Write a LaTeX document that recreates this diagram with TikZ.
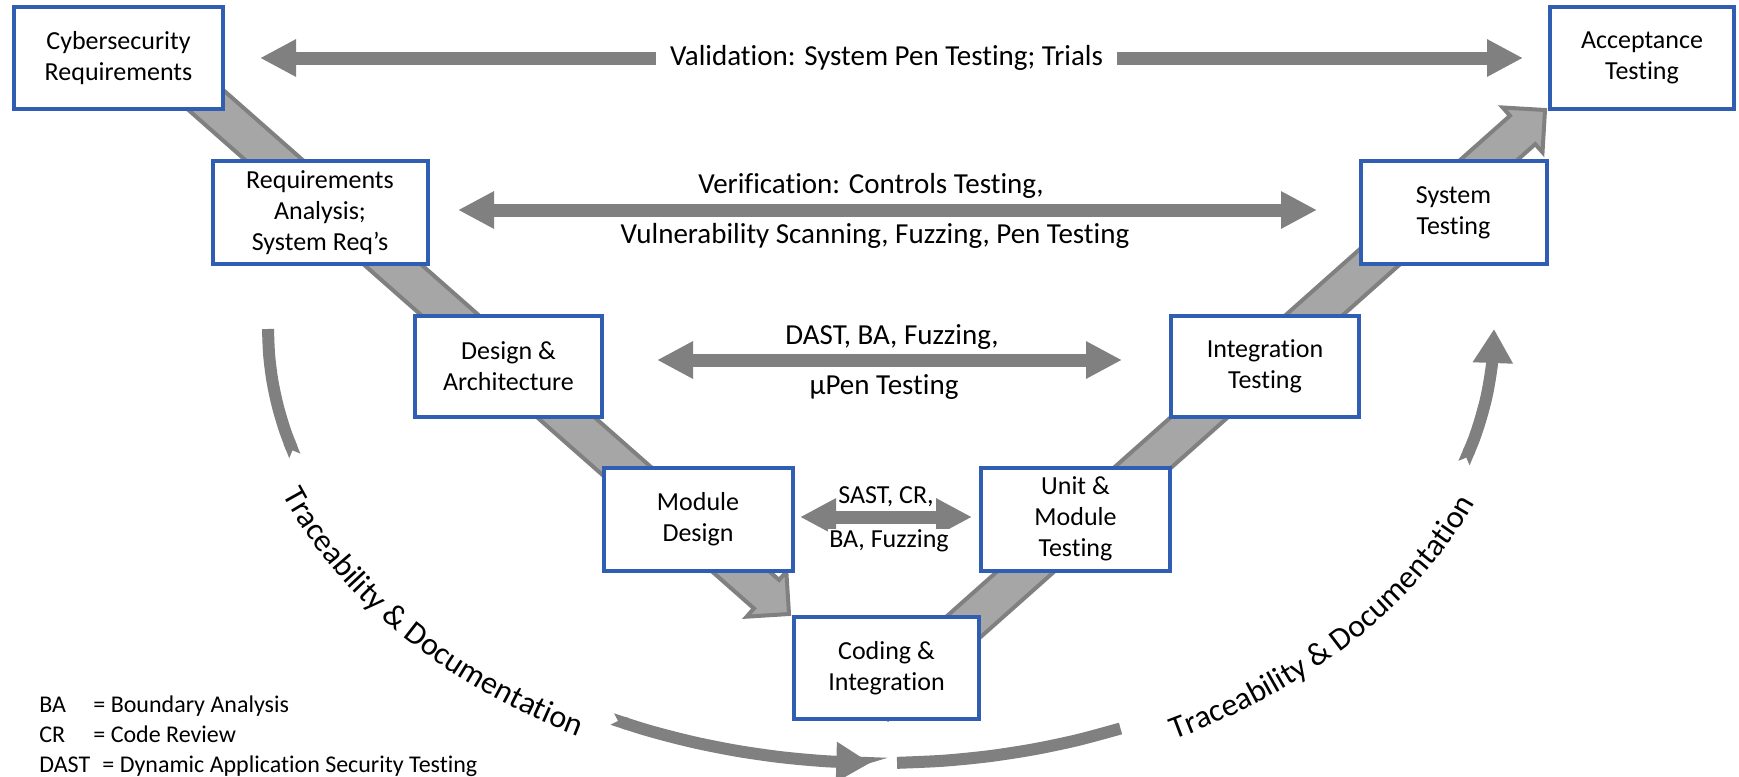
\documentclass[tikz,border=0pt]{standalone}
\usepackage{fontspec}
\setmainfont{Carlito}[Ligatures={NoCommon,NoRare,NoContextual}]
\usetikzlibrary{arrows.meta,calc,decorations.text,backgrounds}
\definecolor{boxblue}{RGB}{47,94,178}
\definecolor{agray}{RGB}{128,128,128}
\definecolor{bandgray}{RGB}{166,166,166}
\newcommand{\boxfont}{\fontsize{13pt}{15.5pt}\selectfont}
\newcommand{\labfont}{\fontsize{14.5pt}{17pt}\selectfont}
\newcommand{\smlabfont}{\fontsize{13pt}{15pt}\selectfont}
\newcommand{\legfont}{\fontsize{12pt}{14pt}\selectfont}
\newcommand{\tracefont}{\fontsize{16pt}{19pt}\selectfont}
\begin{document}
\begin{tikzpicture}[x=0.5pt,y=-0.5pt,
  stage/.style={draw=boxblue, line width=2pt, fill=white, align=center, inner sep=0pt, font=\boxfont},
  harrow/.style={draw=agray, line width=6.5pt, {Triangle[length=18pt,width=17.5pt]}-{Triangle[length=18pt,width=17.5pt]}},
  lab/.style={font=\labfont, inner sep=1pt},
  smlab/.style={font=\smlabfont, fill=white, inner sep=0.5pt},
  vband/.style={fill=bandgray, draw=agray, line width=2pt, line join=miter},
  carc/.style={draw=agray, line width=6pt},
  leg/.style={font=\legfont, anchor=base west, inner sep=0pt},
  trace/.style={decorate, decoration={text along path, text align=center, text={|\tracefont|Traceability {\&} Documentation}}}
]
\useasboundingbox (0,0) rectangle (1739,776);

% stages
\node[stage, minimum width=104.5pt, minimum height=51pt] (cyber) at (118.5,58) {Cybersecurity\\Requirements};
\node[stage, minimum width=107.5pt, minimum height=51.5pt] (reqan) at (320,212.5) {Requirements\\Analysis;\\System Req’s};
\node[stage, minimum width=93.5pt, minimum height=50.5pt] (design) at (508.5,366.5) {Design \&\\Architecture};
\node[stage, minimum width=94.5pt, minimum height=51.5pt] (module) at (698,519) {Module\\Design};
\node[stage, minimum width=92.5pt, minimum height=51pt] (coding) at (886.5,668) {Coding \&\\Integration};
\node[stage, minimum width=94.5pt, minimum height=51.5pt] (unit) at (1075.5,519) {Unit \&\\Module\\Testing};
\node[stage, minimum width=94pt, minimum height=50.5pt] (integ) at (1265,366.5) {Integration\\Testing};
\node[stage, minimum width=93pt, minimum height=51.5pt] (system) at (1453.5,212.5) {System\\Testing};
\node[stage, minimum width=92pt, minimum height=51pt] (accept) at (1642,58) {Acceptance\\Testing};

% V bands
\begin{scope}[on background layer]
\coordinate (LS) at ($(cyber.center)+(42,2)$);
\coordinate (LT) at ($(coding.north west)+(-3,-1)$);
\coordinate (LB) at ($(LT)!15pt!(LS)$);
\filldraw[vband] ($(LS)!9.5pt!90:(LT)$) -- ($(LB)!9.5pt!90:(LT)$) -- ($(LB)!15pt!90:(LT)$) -- (LT)
  -- ($(LB)!15pt!-90:(LT)$) -- ($(LB)!9.5pt!-90:(LT)$) -- ($(LS)!9.5pt!-90:(LT)$) -- cycle;
\coordinate (RS) at ($(coding.center)+(-11,37)$);
\coordinate (RT) at ($(accept.south west)+(-3,-1)$);
\coordinate (RB) at ($(RT)!15pt!(RS)$);
\filldraw[vband] ($(RS)!9.5pt!90:(RT)$) -- ($(RB)!9.5pt!90:(RT)$) -- ($(RB)!15pt!90:(RT)$) -- (RT)
  -- ($(RB)!15pt!-90:(RT)$) -- ($(RB)!9.5pt!-90:(RT)$) -- ($(RS)!9.5pt!-90:(RT)$) -- cycle;
\end{scope}

% horizontal arrows
\draw[harrow] ($(cyber.east)+(35,0)$) -- ($(accept.west)+(-25,0)$);
\draw[harrow] ($(reqan.east)+(28.5,-2.5)$) -- ($(system.west)+(-41.5,-2.5)$);
\draw[harrow] ($(design.east)+(53,-6.5)$) -- ($(integ.west)+(-47,-6.5)$);
\draw[harrow] ($(module.east)+(5.5,-2)$) -- ($(unit.west)+(-7,-2)$);

% labels
\node[lab, fill=white, inner xsep=7pt] (vallab) at ($(cyber.east)!0.5!(accept.west)$) {Validation: System Pen Testing; Trials};
\node[lab] (verlab1) at (871,186) {Verification: Controls Testing,};
\node[lab] (verlab2) at (875,236) {Vulnerability Scanning, Fuzzing, Pen Testing};
\node[lab] (dastlab1) at (892,337) {DAST, BA, Fuzzing,};
\node[lab] (dastlab2) at (884,387) {µPen Testing};
\node[smlab] (sastlab1) at (886,497) {SAST, CR,};
\node[smlab] (sastlab2) at (889,541) {BA, Fuzzing};

% traceability arcs
\draw[carc, -{Triangle Cap[reversed]}] plot[smooth, domain=180:163, samples=6, variable=\t] ({881+613*cos(\t)},{329+434*sin(\t)});
\draw[carc, {Triangle Cap[reversed]}-{Triangle[length=17pt,width=19pt]}] plot[smooth, domain=116:91, samples=7, variable=\t] ({881+613*cos(\t)},{329+434*sin(\t)});
\draw[carc] plot[smooth, domain=88.5:67, samples=6, variable=\t] ({881+613*cos(\t)},{329+434*sin(\t)});
\draw[carc, {Triangle Cap[reversed]}-{Triangle[length=17pt,width=19pt]}] plot[smooth, domain=18:0, samples=5, variable=\t] ({881+613*cos(\t)},{329+434*sin(\t)});

\path[trace] plot[smooth, domain=163:115, samples=20, variable=\t] ({881+641*cos(\t)},{329+462*sin(\t)});
\path[trace] plot[smooth, domain=66:18, samples=20, variable=\t] ({881+641*cos(\t)},{329+462*sin(\t)});

% legend
\node[leg] (legBA) at (39,712) {BA};
\node[leg] (legBAd) at (93,712) {= Boundary Analysis};
\node[leg] (legCR) at (39,742) {CR};
\node[leg] (legCRd) at (93,742) {= Code Review};
\node[leg] (legDA) at (39,772) {DAST};
\node[leg] (legDAd) at (102,772) {= Dynamic Application Security Testing};
\end{tikzpicture}
\end{document}
